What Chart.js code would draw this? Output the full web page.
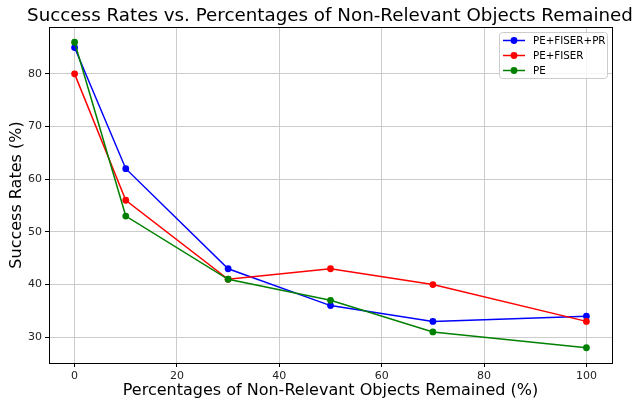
<!DOCTYPE html>
<html>
<head>
<meta charset="utf-8">
<script src="https://cdn.jsdelivr.net/npm/chart.js"></script>
<style>
  html, body { margin: 0; padding: 0; background: #fff; }
  #wrap { width: 632px; height: 400px; }
</style>
</head>
<body>
<div id="wrap"><canvas id="chart" width="632" height="400"></canvas></div>
<script>
// dados
const xValues = [0, 10, 30, 50, 70, 100];
const seriesNames = ['PE+FISER+PR', 'PE+FISER', 'PE'];
const fiserPr = [85, 62, 43, 36, 33, 34];
const fiser = [80, 56, 41, 43, 40, 33];
const peOnly = [86, 53, 41, 37, 31, 28];
const xTicks = [0, 20, 40, 60, 80, 100];
const yTicks = [30, 40, 50, 60, 70, 80];
const chartTitle = 'Success Rates vs. Percentages of Non-Relevant Objects Remained';
const xLabel = 'Percentages of Non-Relevant Objects Remained (%)';
const yLabel = 'Success Rates (%)';

const FONT = "'DejaVu Sans', sans-serif";

function toPoints(values) {
    return values.map((v, i) => ({ x: xValues[i], y: v }));
}

function makeDataset(label, values, color, order) {
    return {
        label: label,
        data: toPoints(values),
        borderColor: color,
        backgroundColor: color,
        pointBackgroundColor: color,
        pointBorderColor: color,
        borderWidth: 1.5,
        pointBorderWidth: 0,
        pointRadius: 3.4,
        pointHoverRadius: 3.4,
        tension: 0,
        order: order
    };
}

// desenha a caixa em volta da área do gráfico, o título e a legenda
const framePlugin = {
    id: 'frame',
    afterDraw(chart) {
        const { ctx, chartArea: a } = chart;
        ctx.save();
        ctx.strokeStyle = '#000';
        ctx.lineWidth = 1;
        ctx.strokeRect(a.left + 0.5, a.top + 0.5, a.right - a.left, a.bottom - a.top);

        // título
        ctx.fillStyle = '#000';
        ctx.font = '18.3px ' + FONT;
        ctx.textAlign = 'center';
        ctx.textBaseline = 'alphabetic';
        ctx.fillText(chartTitle, (a.left + a.right) / 2 - 0.5, 21);

        // legenda
        const boxW = 108, boxH = 46;
        const bx = a.right - 5 - boxW, by = a.top + 5;
        ctx.fillStyle = 'rgba(255,255,255,0.8)';
        ctx.strokeStyle = '#cccccc';
        ctx.lineWidth = 1;
        ctx.beginPath();
        ctx.roundRect(bx + 0.5, by + 0.5, boxW, boxH, 3);
        ctx.fill();
        ctx.stroke();
        ctx.font = '10.3px ' + FONT;
        ctx.textAlign = 'left';
        ctx.textBaseline = 'middle';
        chart.data.datasets.forEach((ds, i) => {
            const y = by + 8.5 + i * 15;
            ctx.strokeStyle = ds.borderColor;
            ctx.lineWidth = 1.5;
            ctx.beginPath();
            ctx.moveTo(bx + 4, y);
            ctx.lineTo(bx + 26, y);
            ctx.stroke();
            ctx.fillStyle = ds.borderColor;
            ctx.beginPath();
            ctx.arc(bx + 15, y, 3.4, 0, Math.PI * 2);
            ctx.fill();
            ctx.fillStyle = '#000';
            ctx.fillText(ds.label, bx + 34, y + 1);
        });
        ctx.restore();
    }
};

const ctx = document.getElementById('chart').getContext('2d');
new Chart(ctx, {
    type: 'line',
    data: {
        datasets: [
            makeDataset(seriesNames[0], fiserPr, '#0000ff', 2),
            makeDataset(seriesNames[1], fiser, '#ff0000', 1),
            makeDataset(seriesNames[2], peOnly, '#008000', 0)
        ]
    },
    options: {
        responsive: false,
        animation: false,
        layout: { padding: { top: 27, right: 20, left: 0, bottom: 0 } },
        plugins: {
            legend: { display: false },
            title: { display: false },
            tooltip: { enabled: false }
        },
        scales: {
            x: {
                type: 'linear',
                min: -5,
                max: 105,
                afterBuildTicks: axis => { axis.ticks = xTicks.map(v => ({ value: v })); },
                afterFit: axis => { axis.height = 37; },
                ticks: { color: '#222', font: { family: FONT, size: 11 }, padding: 3, maxRotation: 0 },
                grid: { color: '#cccccc', tickColor: '#000', tickLength: 4, lineWidth: 1 },
                border: { display: false },
                title: { display: true, text: xLabel, color: '#000', font: { family: FONT, size: 16 }, padding: { top: 0, bottom: 0 } }
            },
            y: {
                type: 'linear',
                min: 25.1,
                max: 88.9,
                afterBuildTicks: axis => { axis.ticks = yTicks.map(v => ({ value: v })); },
                afterFit: axis => { axis.width = 49; },
                ticks: { color: '#222', font: { family: FONT, size: 11 }, padding: 3 },
                grid: { color: '#cccccc', tickColor: '#000', tickLength: 4, lineWidth: 1 },
                border: { display: false },
                title: { display: true, text: yLabel, color: '#000', font: { family: FONT, size: 16 }, padding: { top: 7, bottom: 0 } }
            }
        }
    },
    plugins: [framePlugin]
});
</script>
</body>
</html>
